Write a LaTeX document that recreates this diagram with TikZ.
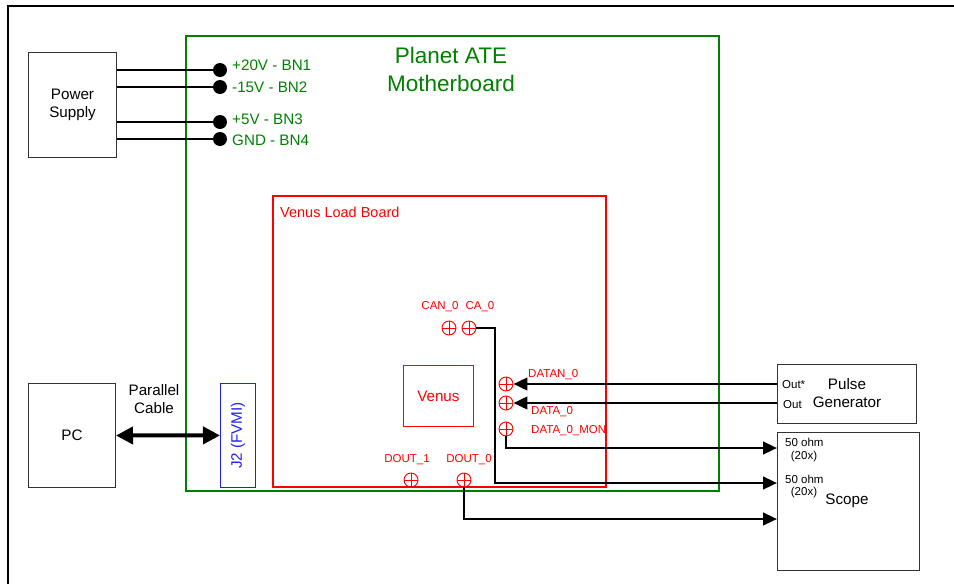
\documentclass[tikz,border=0pt]{standalone}
\usepackage{fontspec}
\setmainfont{Liberation Sans}
\usetikzlibrary{arrows.meta}
\definecolor{mbgreen}{RGB}{0,128,0}
\definecolor{lbred}{RGB}{255,0,0}
\definecolor{jblue}{RGB}{30,30,255}
\tikzset{
  box/.style={draw=black!80, line width=1pt, inner sep=0pt, anchor=north west},
  wire/.style={line width=2.7pt, draw=black},
  arr/.style={wire, -{Triangle[length=14pt,width=12.5pt]}},
  pin/.style={circle, fill=black, minimum size=14pt, inner sep=0pt},
  xpin/.style={circle, draw=lbred, line width=0.9pt, minimum size=14pt, inner sep=0pt,
    path picture={\draw[lbred,line width=0.9pt]
      (path picture bounding box.north)--(path picture bounding box.south)
      (path picture bounding box.west)--(path picture bounding box.east);}},
  big/.style={font=\fontsize{15.2}{18.5}\selectfont},
  small/.style={font=\fontsize{11.5}{15}\selectfont},
  redtxt/.style={small, text=lbred, inner sep=0pt},
  pwrtxt/.style={font=\fontsize{15.2}{18}\selectfont, text=mbgreen, anchor=west, inner sep=0pt},
}
\begin{document}
\begin{tikzpicture}[x=1pt,y=-1pt]
\useasboundingbox (0,0) rectangle (954,584);
% outer frame
\draw[line width=2.4pt] (8,584) -- (8,6) -- (954,6);

% boxes
\node[box, minimum width=88pt, minimum height=105pt, big, align=center] (ps) at (28,52) {Power\\Supply};
\node[box, minimum width=87pt, minimum height=104pt, big] (pc) at (28,383) {PC};
\node[box, draw=mbgreen, line width=2pt, minimum width=533pt, minimum height=455pt] (mb) at (185,35) {};
\node[text=mbgreen, font=\fontsize{22.5}{28}\selectfont, align=center] (mbt) at (451,69) {Planet ATE\\Motherboard};
\node[box, draw=lbred, line width=2pt, minimum width=333pt, minimum height=291pt] (lb) at (272,195) {};
\node[font=\fontsize{14.5}{17}\selectfont, text=lbred, anchor=west, inner sep=0pt] (lbt) at (280,212) {Venus Load Board};
\node[box, draw=lbred, line width=0.8pt, minimum width=70pt, minimum height=61pt, big, text=lbred] (venus) at (403,365) {Venus};
\node[box, draw=jblue, line width=0.8pt, minimum width=35pt, minimum height=104pt] (j2) at (220,383) {};
\node[big, text=jblue, rotate=90] (j2t) at (j2.center) {J2 (FVMI)};
\node[box, minimum width=139pt, minimum height=59pt] (pg) at (777,364) {};
\node[big, align=center] (pgt) at (847,393) {Pulse\\Generator};
\node[small, anchor=west, inner sep=0pt] (outs) at (782,385) {Out*};
\node[small, anchor=west, inner sep=0pt] (out) at (783,405) {Out};
\node[box, minimum width=142pt, minimum height=138pt] (sc) at (777,432) {};
\node[small, anchor=west, inner sep=0pt] (o1) at (785,442) {50 ohm};
\node[small, inner sep=0pt] (x1) at (804,457) {(20x)};
\node[small, anchor=west, inner sep=0pt] (o2) at (785,479) {50 ohm};
\node[small, inner sep=0pt] (x2) at (804,493) {(20x)};
\node[big] (sct) at (847,501) {Scope};

% power pins
\node[pin] (p1) at (220,70) {};
\node[pin] (p2) at (220,87) {};
\node[pin] (p3) at (220,122) {};
\node[pin] (p4) at (220,139) {};
\node[pwrtxt] (l1) at (232,65.5) {+20V - BN1};
\node[pwrtxt] (l2) at (232,87) {-15V - BN2};
\node[pwrtxt] (l3) at (232,119) {+5V - BN3};
\node[pwrtxt] (l4) at (232,140.5) {GND - BN4};
\foreach \p in {p1,p2,p3,p4} \draw[wire] (ps.east |- \p) -- (\p.center);

% red pins
\node[xpin] (can) at (449,328) {};
\node[xpin] (ca) at (469,328) {};
\node[redtxt] (lcan) at (440,307) {CAN\_0};
\node[redtxt] (lca) at (480,307) {CA\_0};
\node[xpin] (datan) at (506,384) {};
\node[xpin] (data) at (506,403) {};
\node[xpin] (mon) at (506,429) {};
\node[redtxt, anchor=west] (ldatan) at (528,375) {DATAN\_0};
\node[redtxt, anchor=west] (ldata) at (531,412) {DATA\_0};
\node[redtxt, anchor=west] (lmon) at (531,431) {DATA\_0\_MON};
\node[xpin] (dout1) at (411,480) {};
\node[xpin] (dout0) at (464,480) {};
\node[redtxt] (ld1) at (407,460) {DOUT\_1};
\node[redtxt] (ld0) at (469,460) {DOUT\_0};

% connectors
\coordinate (s1) at (777,448);
\coordinate (k2) at (495,483);
\coordinate (s2) at (777,483);
\coordinate (s3) at (777,519);
\draw[arr] (pg.west |- datan) -- (datan.east);
\draw[arr] (pg.west |- data) -- (data.east);
\draw[arr] (mon.south) |- (s1);
\draw[arr] (ca.east) -| (k2) -- (s2);
\draw[arr] (dout0.south) |- (s3);
\draw[line width=4pt, {Triangle[length=17pt,width=17pt]}-{Triangle[length=17pt,width=17pt]}] (pc.east) -- (j2.west);
\node[big, align=center] (pcab) at (154,399) {Parallel\\Cable};
\end{tikzpicture}
\end{document}
